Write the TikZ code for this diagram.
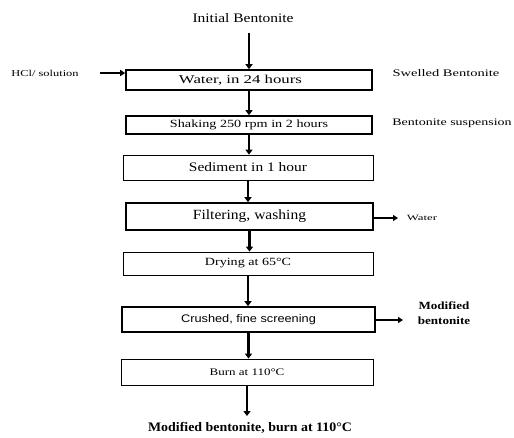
\documentclass[tikz,border=0pt]{standalone}
\usepackage{graphicx}
\usepackage{fontspec}
\setmainfont{Liberation Serif}
\newfontfamily\arialf{Liberation Sans}
\usetikzlibrary{arrows.meta}
\newcommand{\hs}[2]{\scalebox{#1}[1]{#2}}
\newcommand{\fs}[1]{\fontsize{#1}{#1}\selectfont}
\tikzset{
  thickbox/.style={draw, line width=1.6pt, minimum height=#1, inner sep=0pt},
  thinbox/.style={draw, line width=0.8pt, minimum height=#1, inner sep=0pt},
  arr/.style={line width=2.4pt, -{Triangle[width=7pt,length=5pt]}},
  harr/.style={line width=1.4pt, -{Triangle[width=6pt,length=5pt]}},
  lbl/.style={inner sep=0pt, align=center}
}
\begin{document}
\begin{tikzpicture}[x=1pt,y=-1pt]
\useasboundingbox (0,0) rectangle (514,437);
\node[lbl] (init) at (243,18) {\fs{13}\hs{1.19}{Initial Bentonite}};
\node[thickbox=20pt, minimum width=246pt] (b1) at (249,80) {\fs{12}\hs{1.4}{Water, in 24 hours}\hspace*{17pt}};
\node[thickbox=18pt, minimum width=246pt] (b2) at (249,125) {\fs{11}\hs{1.29}{Shaking 250 rpm in 2 hours}};
\node[thinbox=25pt, minimum width=250pt] (b3) at (248,167.5) {\fs{13}\hs{1.19}{Sediment in 1 hour}};
\node[thickbox=27pt, minimum width=247pt] (b4) at (249.5,216.5) {\fs{14}\hs{1.11}{Filtering, washing}};
\node[thinbox=23pt, minimum width=250pt] (b5) at (248,263.5) {\fs{11}\hs{1.28}{Drying at 65\textdegree C}};
\node[thickbox=25pt, minimum width=253pt] (b6) at (248.5,319.5) {\arialf\fs{11}\hs{1.16}{Crushed, fine screening}};
\node[thinbox=26pt, minimum width=252pt] (b7) at (247,372) {\fs{10}\hs{1.3}{Burn at 110\textdegree C}};
\node[lbl] (final) at (250,428) {\bfseries\fs{13}\hs{1.07}{Modified bentonite, burn at 110\textdegree C}};

\node[lbl] (hcl) at (45,73) {\fs{9}\hs{1.38}{HCl/ solution}};
\node[lbl] (swell) at (446,73) {\fs{10}\hs{1.45}{Swelled Bentonite}};
\node[lbl] (susp) at (452,123) {\fs{10}\hs{1.4}{Bentonite suspension}};
\node[lbl] (water) at (422,218) {\fs{8}\hs{1.6}{Water}};
\node[lbl] (modb) at (444,313) {\bfseries\fs{11}\hs{1.19}{Modified}\\[3pt]\bfseries\fs{11}\hs{1.19}{bentonite}};

\coordinate (hclend) at (100,73);
\coordinate (waterend) at (398,218);
\coordinate (modend) at (403,320);
\coordinate (finaltop) at (251,416);

\draw[arr] ([yshift=-10pt]init.south -| b1.north) -- (b1.north);
\draw[arr] (b1.south) -- (b1.south |- b2.north);
\draw[arr] (b2.south) -- (b2.south |- b3.north);
\draw[arr] (b3.south) -- (b3.south |- b4.north);
\draw[arr] (b4.south) -- (b4.south |- b5.north);
\draw[arr] (b5.south) -- (b5.south |- b6.north);
\draw[arr] (b6.south) -- (b6.south |- b7.north);
\draw[arr] (b7.south) -- (b7.south |- finaltop);
\draw[harr] (hclend) -- (hclend -| b1.west);
\draw[harr] (waterend -| b4.east) -- (waterend);
\draw[harr, line width=2pt] (modend -| b6.east) -- (modend);
\end{tikzpicture}
\end{document}
